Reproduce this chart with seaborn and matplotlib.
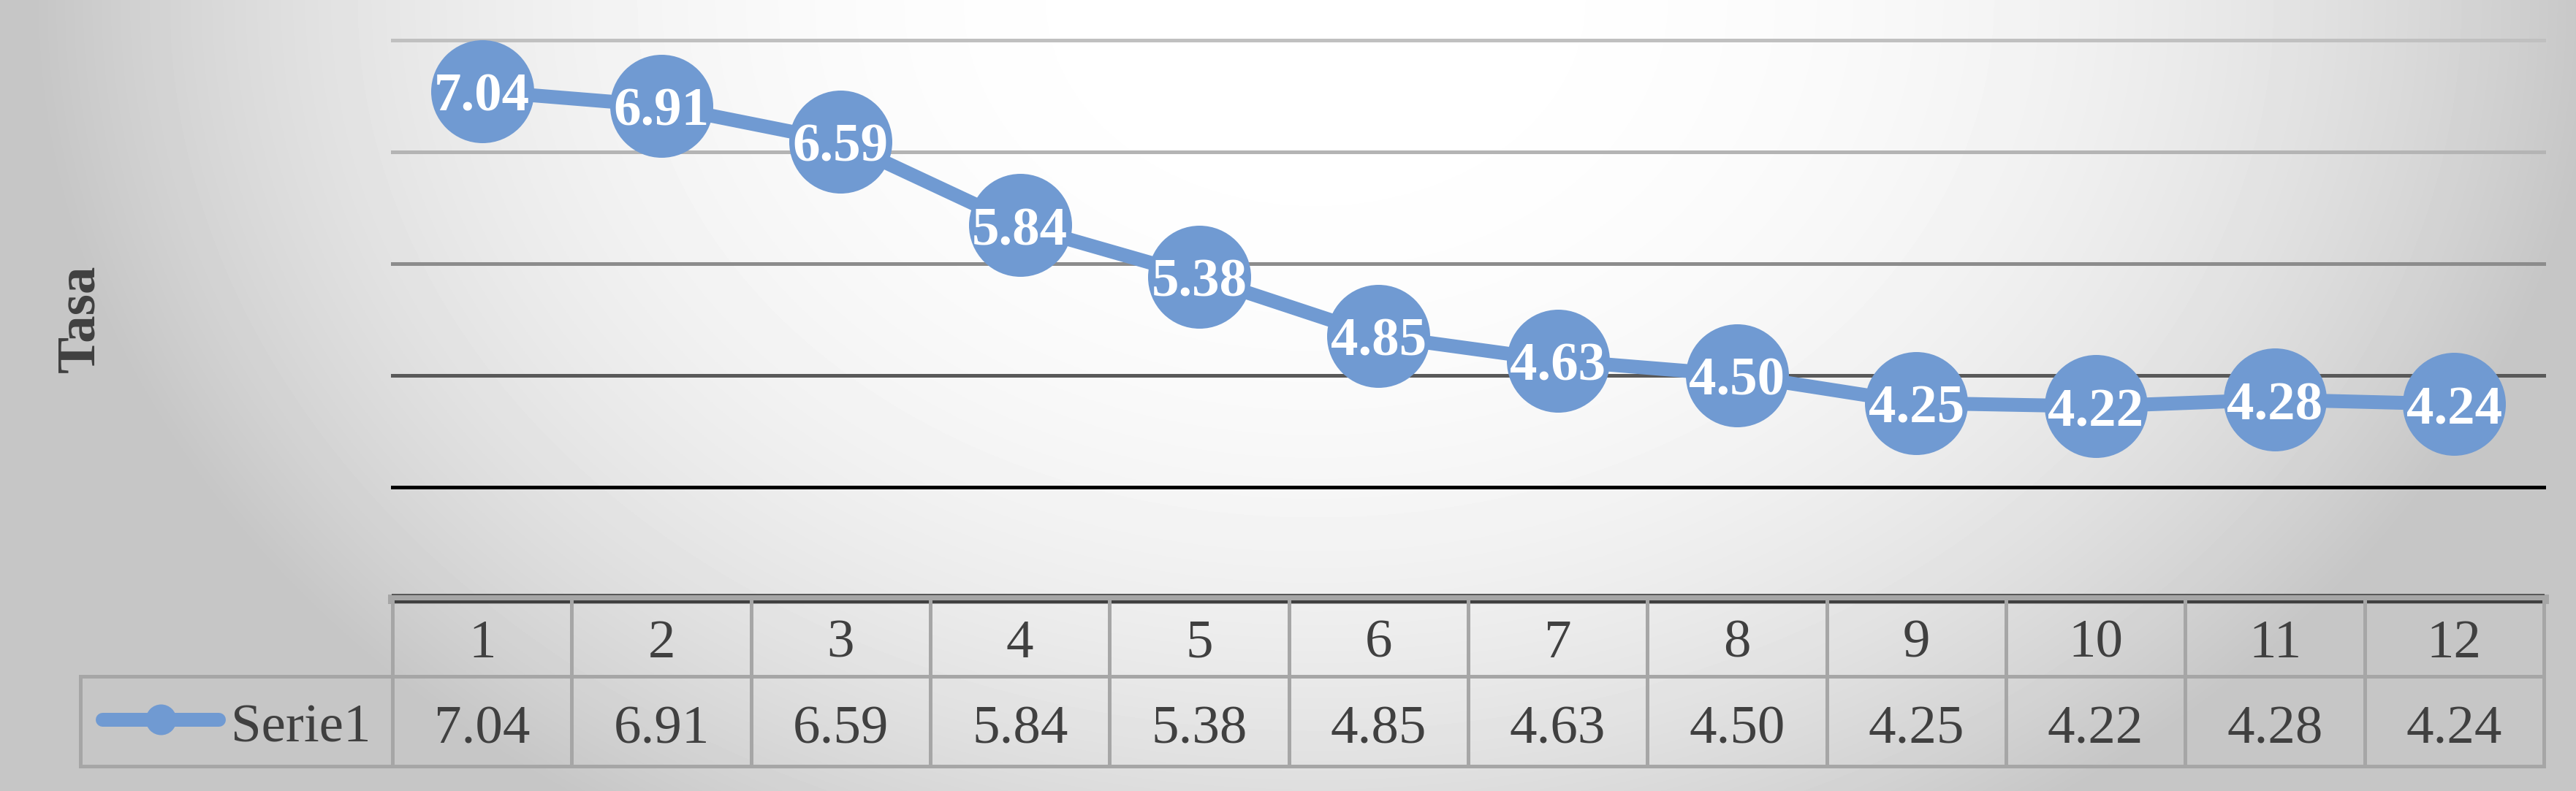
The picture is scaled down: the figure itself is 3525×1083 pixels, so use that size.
import numpy as np
import pandas as pd
import matplotlib
matplotlib.use("Agg")
import matplotlib.pyplot as plt
import matplotlib.transforms as mtransforms
from matplotlib.lines import Line2D
import seaborn as sns

# data
months = [1, 2, 3, 4, 5, 6, 7, 8, 9, 10, 11, 12]
tasa = [7.04, 6.91, 6.59, 5.84, 5.38, 4.85, 4.63, 4.50, 4.25, 4.22, 4.28, 4.24]
series_name = "Serie1"
y_label = "Tasa"
grid_levels = [3.5, 4.5, 5.5, 6.5, 7.5]
grid_colors = ["#000000", "#595959", "#8c8c8c", "#b4b4b4", "#c0c0c0"]

W, H = 3525, 1083
BLUE = "#709ad2"
TXT = "#404040"
TBL = "#a6a6a6"
FONT = ["Liberation Serif", "DejaVu Serif"]


def fy(px):
    # pixel row (from top) -> figure fraction
    return 1 - px / H


def fx(px):
    return px / W


def px2pt(px):
    return px * 72 / 100


fig = plt.figure(figsize=(W / 100, H / 100), dpi=100)

# background: soft radial gradient, white near the top, gray at the edges
bg = fig.add_axes([0, 0, 1, 1], zorder=-10)
yy, xx = np.mgrid[0:H, 0:W]
t = np.clip(np.sqrt(((xx - 1800) / 1750) ** 2 + (yy / 1335) ** 2), 0, 1)
shade = (255 - 57 * t ** 2.6) / 255
bg.imshow(shade, cmap="gray", vmin=0, vmax=1, extent=[0, 1, 0, 1],
          aspect="auto", origin="upper", interpolation="nearest")
bg.set_axis_off()

left, right = 537, 3481
top, bottom = 54.5, 666.5
ax = fig.add_axes([fx(left), fy(bottom), fx(right - left), (bottom - top) / H])
ax.set_facecolor("none")

df = pd.DataFrame({"mes": months, "tasa": tasa})
sns.lineplot(data=df, x="mes", y="tasa", ax=ax, color=BLUE,
             linewidth=px2pt(19), marker="o", markersize=px2pt(141),
             markeredgewidth=0, markeredgecolor=BLUE, zorder=3)

for lvl, c in zip(grid_levels, grid_colors):
    ax.axhline(lvl, color=c, lw=px2pt(5), zorder=1, clip_on=False)

for m, v in zip(months, tasa):
    ax.annotate(f"{v:.2f}", (m, v), xytext=(0, -px2pt(27)), textcoords="offset points",
                ha="center", va="baseline", color="white", fontweight="bold",
                fontsize=54, family=FONT, zorder=5)

ax.set_xlim(0.5, 12.5)
ax.set_ylim(grid_levels[0], grid_levels[-1])
for s in ax.spines.values():
    s.set_visible(False)
ax.tick_params(length=0, labelleft=False, labelbottom=False)
ax.set_xlabel("")
ax.set_ylabel(y_label, fontsize=54, fontweight="bold", color=TXT, family=FONT,
              va="baseline")
ax.yaxis.set_label_coords((128 - left) / (right - left), (bottom - 436) / (bottom - top))

# data table below the plot
tr = mtransforms.blended_transform_factory(ax.transData, fig.transFigure)
lw_t = px2pt(5)
x0, x1 = 0.5, 12.5
ax.add_line(Line2D([x0, x1], [fy(819.5)] * 2, transform=tr, color=TBL, lw=px2pt(13), clip_on=False))
ax.add_line(Line2D([x0, x1], [fy(814)] * 2, transform=tr, color="#595959", lw=px2pt(2), clip_on=False))
ax.add_line(Line2D([x0, x1], [fy(823.5)] * 2, transform=tr, color=TXT, lw=px2pt(4), clip_on=False))
for e in np.arange(0.5, 13.0, 1.0):
    ax.add_line(Line2D([e, e], [fy(817), fy(1049)], transform=tr, color=TBL, lw=lw_t,
                       clip_on=False, zorder=4))
for ypx in (926, 1049):
    fig.add_artist(Line2D([fx(110), fx(right)], [fy(ypx)] * 2, color=TBL, lw=lw_t))
fig.add_artist(Line2D([fx(110), fx(110)], [fy(926), fy(1049)], color=TBL, lw=lw_t))

for m, v in zip(months, tasa):
    ax.text(m, fy(900), str(m), transform=tr, ha="center", va="baseline",
            fontsize=54, color=TXT, family=FONT)
    ax.text(m, fy(1018), f"{v:.2f}", transform=tr, ha="center", va="baseline",
            fontsize=54, color=TXT, family=FONT)

# legend key in the table
fig.add_artist(Line2D([fx(140), fx(299)], [fy(985)] * 2, color=BLUE, lw=px2pt(19),
                      solid_capstyle="round"))
fig.add_artist(Line2D([fx(220)], [fy(985)], color=BLUE, marker="o",
                      markersize=px2pt(42), markeredgewidth=0, linestyle="none"))
fig.text(fx(316), fy(1015), series_name, ha="left", va="baseline",
         fontsize=54, color=TXT, family=FONT)

fig.savefig("out.png", dpi=100)
